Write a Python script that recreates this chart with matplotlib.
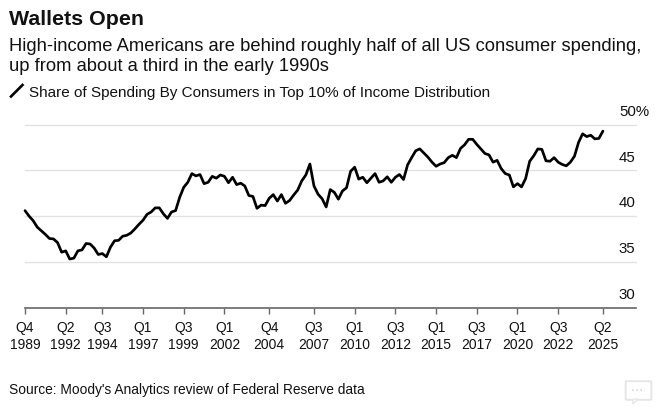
import matplotlib
matplotlib.use("Agg")
import matplotlib.pyplot as plt
from matplotlib.patches import FancyBboxPatch, Polygon
from matplotlib.lines import Line2D

plt.rcParams['font.family'] = ['Liberation Sans', 'DejaVu Sans']

# cuatrimestres desde Q4 1989 hasta Q2 2025
share = [
    40.6, 40.0, 39.5, 38.8, 38.4, 38.0, 37.55, 37.5, 37.1, 36.05,
    36.2, 35.3, 35.4, 36.2, 36.3, 37.0, 36.95, 36.5, 35.8, 35.9,
    35.55, 36.6, 37.3, 37.35, 37.8, 37.9, 38.15, 38.6, 39.1, 39.55,
    40.2, 40.45, 40.9, 40.9, 40.25, 39.75, 40.45, 40.6, 42.05, 43.15,
    43.7, 44.65, 44.4, 44.55, 43.55, 43.7, 44.35, 44.15, 44.5, 44.35,
    43.65, 44.25, 43.45, 43.6, 43.3, 42.25, 42.15, 40.85, 41.2, 41.15,
    41.95, 42.35, 41.65, 42.35, 41.4, 41.7, 42.3, 42.85, 43.85, 44.5,
    45.7, 43.3, 42.4, 41.9, 41.0, 42.9, 42.6, 41.85, 42.75, 43.1,
    44.9, 45.35, 44.05, 44.25, 43.65, 44.15, 44.65, 43.7, 43.85, 44.3,
    43.7, 44.25, 44.55, 44.0, 45.6, 46.4, 47.15, 47.35, 46.9, 46.45,
    45.9, 45.45, 45.7, 45.85, 46.4, 46.65, 46.4, 47.4, 47.8, 48.4,
    48.4, 47.85, 47.35, 46.85, 46.7, 45.9, 46.1, 45.2, 44.65, 44.5,
    43.2, 43.55, 43.2, 44.1, 46.0, 46.6, 47.35, 47.3, 46.05, 46.0,
    46.4, 45.9, 45.65, 45.5, 45.9, 46.55, 48.05, 49.0, 48.7, 48.85,
    48.45, 48.5, 49.3,
]
quarters = list(range(len(share)))

tick_quarters = [0, 10, 19, 29, 39, 49, 60, 71, 81, 91, 101, 111, 121, 131, 142]
tick_labels = ["Q4\n1989", "Q2\n1992", "Q3\n1994", "Q1\n1997", "Q3\n1999",
               "Q1\n2002", "Q4\n2004", "Q3\n2007", "Q1\n2010", "Q3\n2012",
               "Q1\n2015", "Q3\n2017", "Q1\n2020", "Q3\n2022", "Q2\n2025"]
y_values = [30, 35, 40, 45, 50]
y_labels = ["30", "35", "40", "45", "50%"]

W, H = 660, 410
INK = "#111111"

fig = plt.figure(figsize=(W / 100, H / 100), dpi=100)

# los ejes se ubican en pixeles de la imagen original
left, right, top, bottom = 25, 635.5, 125.7, 308.5
ax = fig.add_axes([left / W, 1 - bottom / H, (right - left) / W, (bottom - top) / H])
ax.set_xlim(0, (right - left) / 4.07)
ax.set_ylim(30, 50)
ax.patch.set_alpha(0)

for s in ["top", "left", "right"]:
    ax.spines[s].set_visible(False)
ax.spines["bottom"].set_color("#666666")
ax.spines["bottom"].set_linewidth(1.2)

for v in y_values[1:]:
    ax.axhline(v, color="#e2e2e2", lw=1.0, zorder=1, clip_on=False)

ax.plot(quarters, share, color="black", lw=1.95, solid_joinstyle="round",
        solid_capstyle="round", zorder=3, clip_on=False)

ax.set_xticks(tick_quarters)
ax.set_xticklabels(tick_labels, fontsize=10, color=INK, linespacing=1.22)
ax.tick_params(axis="x", length=4.2, width=1.0, color="#666666", pad=5)

ax.set_yticks([])
for v, lab in zip(y_values, y_labels):
    # el signo % sobresale a la derecha del borde del eje
    dx = 9.7 if lab.endswith("%") else 0
    ax.annotate(lab, xy=(1, v), xycoords=("axes fraction", "data"),
                xytext=(dx, 4.8), textcoords="offset points",
                ha="right", va="bottom", fontsize=10.8, color=INK,
                annotation_clip=False)


def px_text(x, y, s, **kw):
    fig.text(x / W, 1 - y / H, s, va="baseline", color=INK, **kw)


px_text(9, 25, "Wallets Open", fontsize=15.4, fontweight="bold")
px_text(9, 51, "High-income Americans are behind roughly half of all US consumer spending,", fontsize=13.25)
px_text(9, 71, "up from about a third in the early 1990s", fontsize=13.25)
px_text(29, 97, "Share of Spending By Consumers in Top 10% of Income Distribution", fontsize=11)
px_text(9, 394, "Source: Moody's Analytics review of Federal Reserve data", fontsize=9.9)

# clave de la leyenda
fig.add_artist(Line2D([11 / W, 22.5 / W], [1 - 97.5 / H, 1 - 86 / H], color="black", lw=1.9))

# icono de comentario, muy tenue
fig.add_artist(FancyBboxPatch((627 / W, 1 - 400 / H), 23 / W, 17 / H, boxstyle="round,pad=0.002",
                              transform=fig.transFigure, fc="white", ec="#e6e6e6", lw=1.4))
fig.add_artist(Polygon([(633 / W, 1 - 400 / H), (638 / W, 1 - 400 / H), (633 / W, 1 - 405 / H)],
                       transform=fig.transFigure, fc="white", ec="#e6e6e6", lw=1.0))
fig.add_artist(Line2D([632 / W, 645 / W], [1 - 391 / H, 1 - 391 / H], color="#d8d8d8", lw=1.2, ls=(0, (1, 1.5))))

fig.savefig("out.png", dpi=100)
